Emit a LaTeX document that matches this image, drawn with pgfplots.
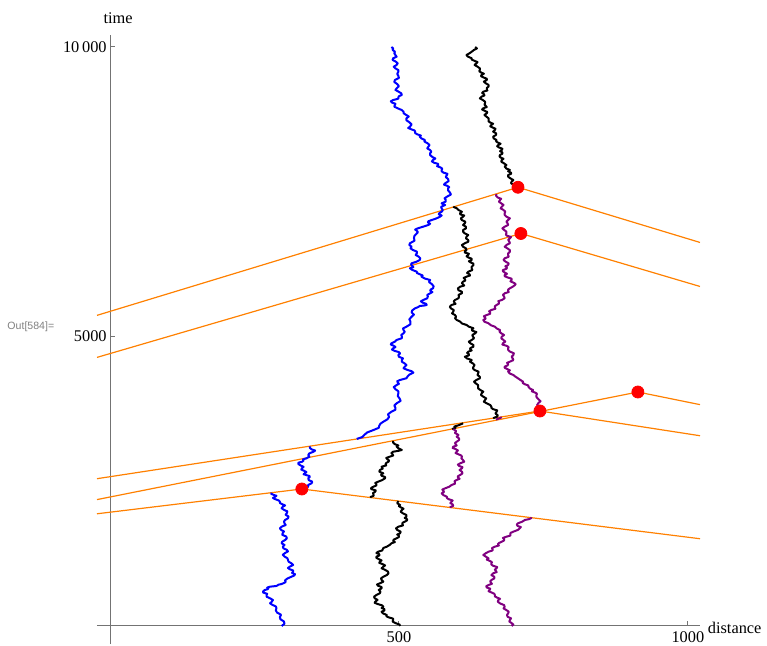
\documentclass[border=0pt]{standalone}
\usepackage{pgfplots}
\pgfplotsset{compat=1.18}
\usepackage{fontspec}
\setmainfont{Liberation Serif}
\newfontfamily\labelsans{Liberation Sans}
\definecolor{mmaorange}{rgb}{1,0.5,0}
\definecolor{mmapurple}{rgb}{0.5,0,0.5}
\definecolor{axisgray}{gray}{0.45}
\begin{document}
\begin{tikzpicture}[font=\fontsize{8.2}{10}\selectfont]
\begin{axis}[
  at={(0,0)}, anchor=south west,
  scale only axis, width=301.5bp, height=304.5bp,
  xmin=-22.5, xmax=1021, ymin=-311, ymax=10207,
  axis lines=middle,
  axis line style={-, draw=axisgray, line width=0.5bp},
  clip=false,
  scaled x ticks=false, scaled y ticks=false,
  xtick={500,1000}, xticklabels={500,1000},
  ytick={5000,10000}, yticklabels={5000,10\,000},
  tick align=inside,
  major tick length=2.5bp,
  tick style={draw=axisgray, line width=0.5bp},
  /pgf/number format/assume math mode=true,
  xticklabel style={inner sep=1.5bp, yshift=-1bp},
  yticklabel style={inner sep=1.5bp},
  walk/.style={line width=1bp, line join=round},
]
% light paths (photon world lines)
\addplot[mmaorange, line width=0.6bp] coordinates {(-22.5,1938) (332,2366) (1021,1507)};
\addplot[mmaorange, line width=0.6bp] coordinates {(-22.5,2544) (744,3713) (1021,3286)};
\addplot[mmaorange, line width=0.6bp] coordinates {(-22.5,2183) (913.5,4041) (1021,3823)};
\addplot[mmaorange, line width=0.6bp] coordinates {(-22.5,4639) (711,6779) (1021,5864)};
\addplot[mmaorange, line width=0.6bp] coordinates {(-22.5,5365) (706,7577) (1021,6624)};
% collision events
\addplot[only marks, mark=*, mark size=3bp, draw=red, fill=red] coordinates {
  (332,2366) (744,3713) (913.5,4041) (711,6779) (706,7577)};
% blue particle
\addplot[blue, walk] coordinates {
(297,0) (302,39) (301,78) (295,116) (294,155) (296,194) (289,233) (287,272) (288,311) (287,338) (281,365) (277,392) (280,420) (282,449) (277,478) (271,506) (271,535) (272,556) (265,578) (265,600) (268,622) (273,636) (274,650) (272,664) (277,679) (287,690) (290,700) (291,712) (297,725) (304,757) (303,790) (307,820) (314,851) (319,873) (320,895) (315,916) (317,938) (317,959) (311,980) (308,1002) (311,1024) (317,1053) (314,1082) (309,1111) (308,1140) (307,1170) (302,1200) (299,1230) (303,1261) (308,1288) (306,1315) (300,1342) (299,1370) (302,1399) (297,1428) (298,1456) (303,1485) (306,1515) (305,1545) (298,1575) (299,1606) (301,1633) (296,1660) (294,1687) (297,1715) (304,1744) (302,1773) (301,1802) (303,1831) (308,1860) (309,1890) (304,1921) (306,1952) (307,1979) (301,2006) (297,2033) (299,2060) (303,2082) (298,2104) (294,2125) (294,2147) (292,2168) (286,2190) (282,2211) (286,2233) (288,2249) (283,2265) (279,2282) (280,2300)};
\addplot[blue, walk] coordinates {
(333,2366) (341,2388) (343,2410) (343,2437) (349,2465) (350,2492) (344,2520) (343,2549) (346,2578) (345,2591) (340,2605) (335,2621) (337,2637) (340,2658) (336,2680) (331,2702) (332,2724) (335,2748) (330,2772) (326,2796) (326,2820) (333,2839) (335,2858) (334,2877) (340,2896) (345,2924) (343,2953) (345,2981) (352,3010) (355,3030) (349,3050) (346,3075) (346,3100)};
\addplot[blue, walk] coordinates {
(427,3230) (437,3265) (440,3300) (445,3342) (456,3385) (465,3422) (466,3460) (468,3494) (473,3528) (480,3569) (483,3610) (481,3655) (487,3701) (494,3735) (494,3770) (492,3808) (496,3846) (503,3888) (501,3930) (498,3974) (499,4019) (499,4054) (494,4090) (491,4126) (496,4162) (500,4183) (498,4205) (497,4227) (502,4249) (513,4279) (515,4310) (518,4342) (525,4375) (522,4400) (514,4425) (508,4451) (510,4478) (513,4506) (510,4535) (505,4564) (505,4594) (507,4622) (500,4650) (499,4680) (502,4710) (500,4730) (493,4750) (488,4773) (490,4796) (494,4818) (491,4840) (486,4861) (487,4882) (493,4910) (496,4940) (505,4970) (505,5000) (504,5027) (508,5055) (510,5082) (508,5110) (507,5140) (513,5169) (520,5212) (520,5255) (518,5298) (522,5342) (526,5378) (522,5415) (523,5451) (528,5487) (533,5507) (536,5527) (544,5535) (548,5544) (547,5565) (541,5585) (538,5607) (542,5630) (549,5660) (550,5690) (549,5718) (554,5746) (558,5768) (554,5790) (555,5811) (559,5832) (560,5868) (557,5905) (552,5940) (554,5976) (545,6000) (539,6033) (541,6054) (536,6075) (531,6097) (531,6119) (523,6150) (519,6178) (525,6199) (523,6220) (521,6242) (522,6264) (530,6290) (536,6321) (537,6350) (534,6380) (529,6408) (531,6437) (531,6466) (524,6495) (520,6523) (522,6551) (518,6580) (519,6610) (527,6655) (526,6700) (527,6741) (531,6782) (533,6803) (531,6825) (528,6847) (533,6869) (543,6900) (551,6926) (554,6948) (550,6970) (551,6991) (557,7012) (565,7040) (571,7069) (574,7090) (569,7110) (570,7132) (574,7155) (576,7182) (574,7210) (573,7240) (580,7271) (576,7285) (574,7300) (581,7330) (581,7360) (579,7387) (583,7414) (590,7452) (588,7490) (585,7524) (585,7559) (587,7580) (584,7600) (578,7623) (580,7646) (586,7683) (585,7720) (581,7754) (583,7789) (584,7810) (577,7830) (574,7853) (574,7876) (575,7898) (572,7920) (566,7941) (568,7962) (568,7981) (561,8000) (557,8024) (559,8048) (563,8074) (558,8100) (554,8132) (554,8164) (556,8192) (554,8220) (549,8249) (551,8278) (553,8309) (549,8340) (544,8367) (545,8394) (539,8420) (536,8451) (538,8470) (532,8490) (528,8513) (528,8537) (527,8558) (521,8580) (516,8601) (519,8623) (522,8661) (518,8700) (513,8734) (513,8768) (517,8799) (512,8830) (508,8856) (508,8882) (505,8911) (498,8940) (492,8969) (493,8998) (494,9019) (488,9040) (486,9062) (490,9084) (499,9107) (499,9130) (500,9150) (505,9171) (504,9200) (499,9230) (494,9258) (496,9286) (500,9323) (497,9360) (492,9395) (493,9430) (500,9465) (499,9500) (497,9536) (499,9573) (499,9601) (494,9630) (491,9659) (496,9689) (498,9719) (494,9750) (489,9777) (490,9805) (496,9832) (494,9860) (492,9889) (493,9919) (489,9950) (490,9975) (487,10000)};
% black particle
\addplot[black, walk] coordinates {
(502,0) (501,25) (494,50) (489,77) (490,104) (490,127) (482,150) (478,170) (479,190) (472,220) (470,247) (475,268) (475,290) (470,311) (473,333) (471,356) (463,380) (458,400) (459,420) (463,450) (458,480) (457,507) (461,535) (467,565) (468,595) (465,623) (470,651) (470,673) (464,695) (462,716) (467,737) (473,766) (470,795) (469,823) (473,851) (479,880) (482,910) (481,940) (476,970) (470,997) (473,1024) (476,1046) (472,1068) (466,1090) (467,1111) (470,1133) (465,1155) (461,1176) (461,1197) (466,1218) (466,1240) (461,1261) (464,1283) (471,1304) (472,1325) (473,1347) (479,1370) (484,1400) (487,1428) (493,1449) (490,1470) (491,1492) (496,1515) (500,1537) (500,1560) (497,1580) (502,1601) (503,1630) (497,1660) (495,1687) (499,1715) (507,1737) (506,1760) (506,1780) (510,1801) (514,1823) (514,1845) (510,1866) (513,1888) (513,1916) (507,1945) (503,1974) (505,2003) (508,2026) (503,2050) (500,2070) (502,2090) (497,2120) (499,2158)};
\addplot[black, walk] coordinates {
(450,2225) (456,2247) (456,2270) (455,2295) (459,2320) (460,2342) (452,2365) (452,2385) (456,2406) (461,2428) (461,2450) (459,2471) (464,2492) (471,2520) (476,2551) (476,2573) (470,2595) (469,2616) (473,2637) (466,2665) (467,2694) (472,2720) (470,2751) (478,2773) (477,2795) (478,2816) (482,2838) (483,2859) (480,2880) (478,2902) (484,2924) (490,2944) (489,2965) (487,2987) (490,3010) (499,3025) (505,3040) (499,3070) (496,3097) (499,3118) (493,3140) (490,3167) (490,3195)};
\addplot[black, walk] coordinates {
(592,3400) (598,3425) (596,3445) (604,3470) (611,3500)};
\addplot[black, walk] coordinates {
(663,3590) (670,3615) (671,3640) (667,3670) (669,3701) (670,3723) (663,3745) (660,3766) (660,3788) (658,3816) (652,3845) (647,3874) (649,3903) (651,3931) (646,3960) (642,3989) (643,4019) (646,4047) (641,4075) (637,4104) (637,4133) (637,4161) (633,4190) (630,4219) (634,4249) (640,4277) (640,4305) (636,4334) (637,4364) (638,4392) (631,4420) (628,4449) (629,4478) (631,4506) (628,4535) (623,4564) (626,4594) (618,4620) (614,4651) (621,4673) (621,4695) (618,4716) (620,4738) (626,4759) (623,4780) (624,4802) (629,4824) (629,4852) (624,4880) (621,4910) (626,4940) (630,4970) (628,5000) (627,5027) (632,5055) (634,5077) (627,5100) (626,5121) (629,5142) (621,5170) (617,5199) (609,5225) (606,5256) (600,5285) (597,5314) (599,5342) (597,5370) (592,5399) (594,5428) (595,5456) (590,5485) (588,5514) (591,5544) (598,5564) (596,5585) (595,5607) (597,5630) (603,5660) (604,5690) (603,5718) (609,5746) (609,5773) (603,5800) (602,5830) (606,5860) (613,5880) (611,5900) (609,5923) (611,5947) (615,5968) (614,5990) (612,6011) (617,6033) (623,6054) (622,6075) (618,6097) (620,6119) (627,6147) (626,6175) (626,6205) (629,6235) (629,6257) (624,6280) (621,6300) (626,6321) (626,6343) (620,6365) (617,6386) (620,6408) (621,6429) (614,6450) (614,6472) (617,6494) (616,6522) (611,6550) (609,6580) (614,6610) (620,6637) (620,6665) (616,6694) (617,6724) (620,6752) (614,6780) (611,6809) (611,6839) (616,6867) (616,6895) (611,6925) (614,6955) (615,6982) (609,7010) (607,7039) (611,7069) (613,7089) (606,7110) (606,7132) (609,7155) (603,7185) (600,7214) (594,7240)};
\addplot[black, walk] coordinates {
(703,7570) (704,7595) (698,7620) (694,7647) (695,7674) (698,7702) (693,7730) (689,7759) (689,7789) (694,7809) (694,7830) (689,7853) (692,7876) (686,7900) (683,7933) (686,7961) (682,7990) (677,8019) (678,8048) (681,8069) (676,8090) (674,8112) (675,8135) (679,8157) (679,8180) (675,8200) (678,8221) (679,8243) (673,8265) (670,8286) (672,8307) (676,8328) (671,8350) (668,8372) (669,8394) (664,8420) (663,8451) (668,8480) (668,8510) (663,8538) (666,8566) (667,8588) (662,8610) (658,8631) (660,8653) (663,8674) (658,8695) (655,8717) (655,8739) (655,8769) (651,8800) (648,8827) (652,8855) (653,8877) (648,8900) (644,8920) (646,8941) (652,8963) (650,8985) (648,9006) (649,9027) (649,9056) (645,9085) (640,9113) (643,9142) (648,9163) (647,9185) (644,9206) (646,9228) (653,9249) (652,9270) (652,9292) (655,9315) (655,9345) (650,9375) (647,9402) (652,9430) (652,9452) (646,9475) (642,9495) (643,9516) (647,9538) (642,9560) (639,9581) (640,9603) (640,9631) (636,9660) (631,9689) (634,9718) (636,9739) (631,9760) (626,9782) (626,9805) (619,9835) (617,9862) (622,9890) (626,9919) (630,9950) (635,9975) (632,10000)};
% purple particle
\addplot[mmapurple, walk] coordinates {
(695,0) (698,25) (695,50) (691,77) (692,104) (694,132) (688,160) (687,190) (689,219) (690,247) (686,275) (681,304) (683,333) (682,361) (675,390) (671,420) (672,449) (675,470) (670,490) (666,512) (666,535) (665,557) (660,580) (655,601) (657,622) (658,644) (652,665) (651,687) (655,708) (661,729) (659,750) (658,772) (660,794) (665,822) (665,850) (660,880) (663,910) (669,930) (668,950) (666,973) (669,997) (670,1018) (663,1040) (660,1061) (660,1083) (661,1104) (657,1125) (652,1147) (655,1169) (650,1200) (646,1226) (650,1255) (655,1283) (662,1304) (662,1325) (661,1347) (666,1370) (673,1390) (671,1410) (673,1433) (678,1456) (682,1478) (682,1500) (680,1521) (686,1542) (693,1563) (693,1585) (693,1607) (698,1629) (706,1660) (709,1687) (711,1708) (705,1730) (704,1752) (706,1774) (713,1800) (718,1831) (725,1845) (730,1868)};
\addplot[mmapurple, walk] coordinates {
(588,2050) (594,2075) (593,2100) (589,2123) (591,2147) (593,2168) (586,2190) (583,2211) (583,2233) (577,2260) (574,2292) (578,2313) (577,2335) (575,2356) (580,2378) (587,2405) (591,2435) (597,2457) (597,2480) (596,2501) (600,2522) (605,2543) (602,2565) (602,2586) (606,2608) (610,2636) (609,2665) (605,2694) (609,2724) (610,2744) (604,2765) (602,2787) (606,2810) (613,2837) (611,2865) (608,2894) (609,2924) (608,2944) (603,2965) (598,2987) (600,3010) (602,3032) (598,3055) (593,3076) (594,3097) (600,3118) (598,3140) (597,3161) (600,3183) (604,3211) (604,3240) (600,3269) (603,3299) (597,3335) (599,3367) (594,3400)};
\addplot[mmapurple, walk] coordinates {
(668,3565) (673,3585) (678,3605)};
\addplot[mmapurple, walk] coordinates {
(744,3713) (747,3746) (743,3780) (739,3813) (741,3846) (745,3883) (741,3920) (738,3955) (738,3990) (739,4010) (736,4030) (730,4053) (732,4076) (727,4100) (724,4133) (724,4154) (718,4175) (714,4197) (715,4219) (710,4250) (706,4278) (701,4310) (698,4335) (692,4360) (689,4392) (692,4416) (687,4440) (683,4459) (683,4478) (688,4501) (689,4525) (687,4545) (692,4565) (698,4592) (697,4620) (695,4650) (698,4680) (699,4710) (692,4740) (689,4768) (689,4796) (690,4818) (686,4840) (679,4861) (680,4882) (684,4911) (681,4940) (677,4968) (678,4997) (682,5026) (677,5055) (674,5083) (675,5112) (669,5140) (666,5169) (659,5195) (655,5228) (648,5255) (646,5285) (650,5307) (649,5330) (647,5350) (652,5371) (658,5393) (658,5415) (656,5436) (660,5458) (667,5479) (666,5500) (666,5522) (669,5544) (673,5567) (673,5590) (672,5610) (678,5630) (683,5660) (682,5690) (680,5718) (683,5746) (690,5768) (689,5790) (689,5811) (692,5832) (697,5860) (701,5889) (702,5909) (698,5930) (693,5953) (695,5976) (695,5998) (688,6020) (683,6041) (683,6062) (687,6083) (683,6105) (680,6126) (680,6148) (686,6169) (687,6190) (684,6212) (689,6235) (690,6262) (685,6290) (681,6320) (683,6350) (690,6377) (689,6405) (689,6434) (692,6464) (692,6492) (688,6520) (683,6550) (686,6580) (692,6610) (691,6640) (689,6668) (692,6696) (694,6718) (687,6740) (685,6761) (686,6782) (686,6811) (682,6840) (679,6868) (683,6896) (689,6925) (688,6955) (686,6983) (689,7012) (692,7041) (686,7070) (683,7099) (683,7128) (684,7156) (681,7185) (676,7213) (678,7242) (681,7271) (677,7300) (673,7328) (675,7357) (677,7378) (671,7400) (668,7430) (669,7460)};
% axis names and cell label
\node[anchor=center] at (axis cs:14,10501) {time};
\node[anchor=west, inner sep=0pt] at (axis cs:1034,-35) {distance};
\node[anchor=center, text=gray, font=\labelsans\fontsize{5.3}{6}\selectfont] at (axis cs:-137,5164) {Out[584]=};
\end{axis}
\pgfresetboundingbox
\useasboundingbox (-48.5bp,-1bp) rectangle (335bp,322bp);
\end{tikzpicture}
\end{document}
